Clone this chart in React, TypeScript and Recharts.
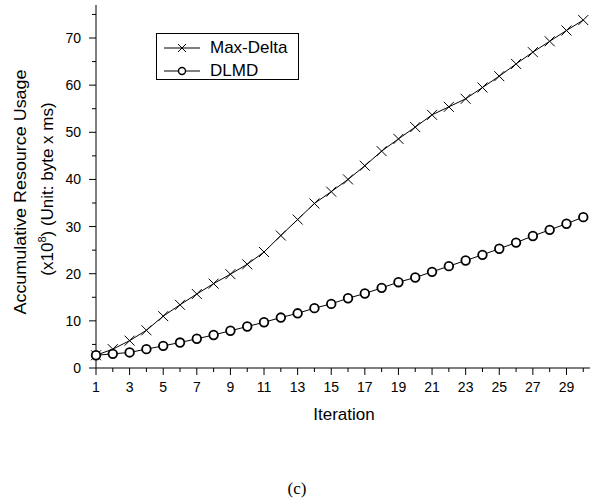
import { LineChart, Line, XAxis, YAxis, Legend, Label } from 'recharts';

const iterations = [1, 2, 3, 4, 5, 6, 7, 8, 9, 10, 11, 12, 13, 14, 15, 16, 17, 18, 19, 20, 21, 22, 23, 24, 25, 26, 27, 28, 29, 30];
const maxDelta = [2.7, 4.0, 5.8, 8.0, 11.0, 13.4, 15.7, 17.9, 19.9, 22.0, 24.6, 28.1, 31.5, 34.9, 37.4, 40.0, 42.9, 46.0, 48.6, 51.1, 53.7, 55.4, 57.1, 59.5, 61.9, 64.5, 67.0, 69.3, 71.6, 73.8];
const dlmd = [2.7, 3.0, 3.3, 4.0, 4.7, 5.4, 6.2, 7.0, 7.9, 8.8, 9.7, 10.7, 11.6, 12.7, 13.6, 14.8, 15.8, 17.0, 18.2, 19.2, 20.4, 21.6, 22.8, 24.0, 25.3, 26.6, 28.0, 29.3, 30.6, 32.0];
const yTicks = [0, 5, 10, 15, 20, 25, 30, 35, 40, 45, 50, 55, 60, 65, 70, 75];
const yLabelTicks = [0, 10, 20, 30, 40, 50, 60, 70];
const seriesOrder = ['maxDelta', 'dlmd'];

const data = iterations.map((it, i) => ({ iteration: it, maxDelta: maxDelta[i], dlmd: dlmd[i] }));

const SANS = '"Liberation Sans", Arial, sans-serif';
const SERIF = '"Liberation Serif", "Times New Roman", serif';

const CrossDot = (props: any) => {
  const { cx, cy } = props;
  if (cx == null || cy == null) return null;
  const s = 5;
  return (
    <path
      d={`M${cx - s},${cy - s}L${cx + s},${cy + s}M${cx - s},${cy + s}L${cx + s},${cy - s}`}
      stroke="#000"
      strokeWidth={1}
      fill="none"
    />
  );
};

const CircleDot = (props: any) => {
  const { cx, cy } = props;
  if (cx == null || cy == null) return null;
  return <circle cx={cx} cy={cy} r={4.3} fill="#fff" stroke="#000" strokeWidth={1.8} />;
};

const XTick = (props: any) => {
  const { x, y, payload } = props;
  const major = payload.value % 2 === 1;
  return (
    <g>
      <line x1={x} y1={y} x2={x} y2={y + (major ? 7 : 4)} stroke="#000" strokeWidth={1} />
      {major && (
        <text x={x} y={y + 24} textAnchor="middle" fontSize={14} fontFamily={SANS} fill="#000">
          {payload.value}
        </text>
      )}
    </g>
  );
};

const YTick = (props: any) => {
  const { x, y, payload } = props;
  const major = yLabelTicks.includes(payload.value);
  return (
    <g>
      <line x1={x} y1={y} x2={x - (major ? 7 : 4)} y2={y} stroke="#000" strokeWidth={1} />
      {major && (
        <text x={x - 15} y={y + 5} textAnchor="end" fontSize={14} fontFamily={SANS} fill="#000">
          {payload.value}
        </text>
      )}
    </g>
  );
};

const LegendBox = (props: any) => {
  const items = [...(props.payload || [])].sort(
    (a: any, b: any) => seriesOrder.indexOf(a.dataKey) - seriesOrder.indexOf(b.dataKey)
  );
  return (
    <div
      style={{
        border: '1px solid #000',
        background: '#fff',
        width: 143,
        height: 47,
        boxSizing: 'border-box',
        fontFamily: SANS,
        fontSize: 17,
        color: '#000',
        position: 'relative',
      }}
    >
      {items.map((item: any, i: number) => (
        <div
          key={item.value}
          style={{ position: 'absolute', left: 0, top: 4 + i * 23, height: 20, display: 'flex', alignItems: 'center', lineHeight: '20px' }}
        >
          <svg width={53} height={20}>
            <line x1={7} y1={10} x2={43} y2={10} stroke="#000" strokeWidth={1} />
            {item.dataKey === 'maxDelta' ? (
              <path d="M21,6L29,14M21,14L29,6" stroke="#000" strokeWidth={1} />
            ) : (
              <circle cx={25} cy={10} r={3.5} fill="#fff" stroke="#000" strokeWidth={1.4} />
            )}
          </svg>
          <span>{item.value}</span>
        </div>
      ))}
    </div>
  );
};

export default function App() {
  return (
    <div style={{ position: 'absolute', left: 0, top: 0, background: '#fff' }}>
      <LineChart width={595} height={501} data={data} margin={{ top: 5, right: 5, left: 36, bottom: 103 }}>
        <XAxis
          dataKey="iteration"
          type="number"
          domain={[1, 30.4]}
          ticks={iterations}
          interval={0}
          tickSize={0}
          tickMargin={0}
          tickLine={false}
          tick={<XTick />}
          height={30}
          axisLine={{ stroke: '#000', strokeWidth: 1 }}
        >
          <Label
            content={() => (
              <g>
                <text x={344} y={420} textAnchor="middle" fontSize={17} fontFamily={SANS} fill="#000">
                  Iteration
                </text>
                <text x={297} y={494} textAnchor="middle" fontSize={17} fontFamily={SERIF} fill="#000">
                  (c)
                </text>
              </g>
            )}
          />
        </XAxis>
        <YAxis
          type="number"
          domain={[0, 77]}
          ticks={yTicks}
          interval={0}
          width={60}
          tickSize={0}
          tickMargin={0}
          tickLine={false}
          tick={<YTick />}
          axisLine={{ stroke: '#000', strokeWidth: 1 }}
        >
          <Label
            content={() => (
              <g fontFamily={SANS} fontSize={17} fill="#000">
                <text
                  x={26}
                  y={192}
                  textAnchor="middle"
                  textLength={245}
                  lengthAdjust="spacingAndGlyphs"
                  transform="rotate(-90 26 192)"
                >
                  Accumulative Resource Usage
                </text>
                <text x={53} y={189} textAnchor="middle" transform="rotate(-90 53 189)">
                  (x10<tspan dy={-7} fontSize={11}>8</tspan>
                  <tspan dy={7}>) (Unit: byte x ms)</tspan>
                </text>
              </g>
            )}
          />
        </YAxis>
        <Legend
          layout="vertical"
          align="center"
          verticalAlign="middle"
          wrapperStyle={{ left: 156, top: 33, width: 143 }}
          content={<LegendBox />}
        />
        <Line
          dataKey="maxDelta"
          name="Max-Delta"
          stroke="#000"
          strokeWidth={1}
          dot={<CrossDot />}
          activeDot={false}
          isAnimationActive={false}
        />
        <Line
          dataKey="dlmd"
          name="DLMD"
          stroke="#000"
          strokeWidth={1}
          dot={<CircleDot />}
          activeDot={false}
          isAnimationActive={false}
        />
      </LineChart>
    </div>
  );
}
